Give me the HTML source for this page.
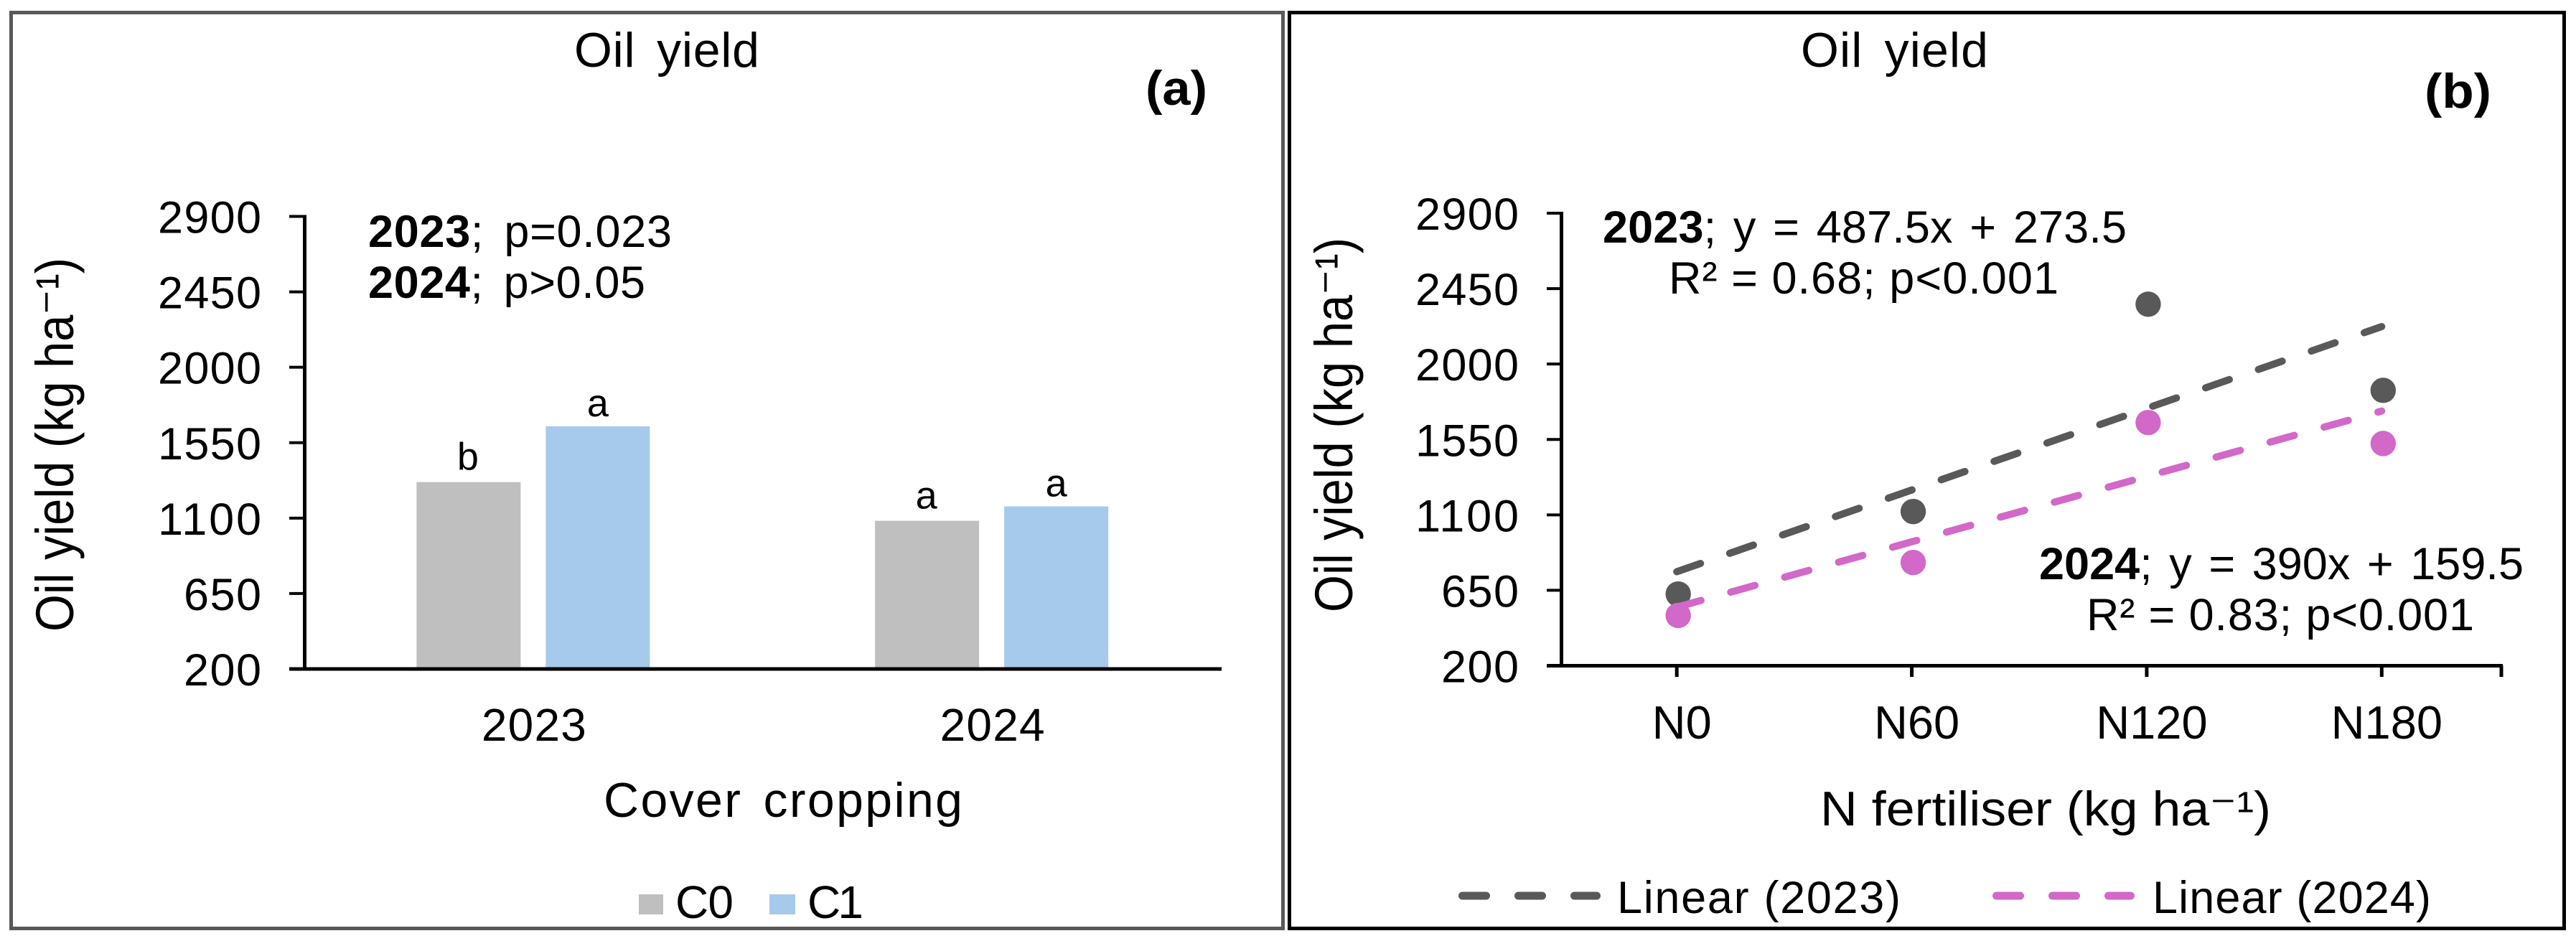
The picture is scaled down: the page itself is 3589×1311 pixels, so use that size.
<!DOCTYPE html>
<html lang="en">
<head>
<meta charset="utf-8">
<title>Oil yield charts</title>
<style>
html,body{margin:0;padding:0;background:#fff;width:3589px;height:1311px;overflow:hidden}
svg{display:block}
text{font-family:"Liberation Sans","DejaVu Sans",sans-serif;fill:#000}
</style>
</head>
<body>
<svg id="fig" xmlns="http://www.w3.org/2000/svg" width="3589" height="1311" viewBox="0 0 3589 1311">
<rect x="0" y="0" width="3589" height="1311" fill="#fff"/>
<rect x="15.5" y="17.5" width="1772" height="1276" fill="none" stroke="#595959" stroke-width="5"/>
<rect x="1796.5" y="17.5" width="1776" height="1276" fill="none" stroke="#000" stroke-width="5"/>

<text x="800" y="93" font-size="68" style="word-spacing:10px" textLength="258">Oil yield</text>
<text x="1596" y="146" font-size="68" font-weight="bold" textLength="86" lengthAdjust="spacingAndGlyphs">(a)</text>
<text x="513" y="344" font-size="63" style="word-spacing:10px" textLength="423"><tspan font-weight="bold">2023</tspan>; p=0.023</text>
<text x="513" y="415" font-size="63" style="word-spacing:10px" textLength="386"><tspan font-weight="bold">2024</tspan>; p&gt;0.05</text>
<text transform="translate(102,880) rotate(-90)" font-size="74" textLength="521" lengthAdjust="spacingAndGlyphs">Oil yield (kg ha⁻¹)</text>
<text x="841" y="1138" font-size="68" style="word-spacing:8px" textLength="500">Cover cropping</text>
<rect x="890" y="1246" width="34" height="28" fill="#bfbfbf"/>
<text x="941" y="1279" font-size="64" textLength="81">C0</text>
<rect x="1072" y="1246" width="36" height="28" fill="#a6caec"/>
<text x="1125" y="1279" font-size="64" textLength="78">C1</text>

<text x="2509" y="93" font-size="68" style="word-spacing:10px" textLength="261">Oil yield</text>
<text x="3378" y="150" font-size="68" font-weight="bold" textLength="93" lengthAdjust="spacingAndGlyphs">(b)</text>
<text x="2233" y="338" font-size="63" style="word-spacing:6px" textLength="730"><tspan font-weight="bold">2023</tspan>; y = 487.5x + 273.5</text>
<text x="2325" y="409" font-size="63" textLength="543">R² = 0.68; p&lt;0.001</text>
<text x="2841" y="807" font-size="63" style="word-spacing:6px" textLength="675"><tspan font-weight="bold">2024</tspan>; y = 390x + 159.5</text>
<text x="2907" y="878" font-size="63" textLength="540">R² = 0.83; p&lt;0.001</text>
<text transform="translate(1884,853) rotate(-90)" font-size="74" textLength="522" lengthAdjust="spacingAndGlyphs">Oil yield (kg ha⁻¹)</text>
<text x="2536" y="1150" font-size="68" textLength="628" lengthAdjust="spacingAndGlyphs">N fertiliser (kg ha⁻¹)</text>
<line x1="2037.5" y1="1248" x2="2224.5" y2="1248" stroke="#595959" stroke-width="11" stroke-linecap="round" stroke-dasharray="33 45"/>
<text x="2253" y="1272" font-size="63" textLength="395">Linear (2023)</text>
<line x1="2781.5" y1="1248" x2="2968.5" y2="1248" stroke="#d268c8" stroke-width="11" stroke-linecap="round" stroke-dasharray="33 45"/>
<text x="2999" y="1272" font-size="63" textLength="388">Linear (2024)</text>
<g id="chart-a"></g>
<g id="chart-b"></g>
</svg>
<script>
const yTickLabels = [200, 650, 1100, 1550, 2000, 2450, 2900];
const yearCategories = ['2023', '2024'];
const c0Values = [1315, 1084];
const c1Values = [1648, 1170];
const c0Letters = ['b', 'a'];
const c1Letters = ['a', 'a'];
const nCategories = ['N0', 'N60', 'N120', 'N180'];
const yield2023 = [628, 1120, 2357, 1843];
const yield2024 = [500, 816, 1651, 1526];
const trendSlopes = [487.5, 390];
const trendIntercepts = [273.5, 159.5];

const NS = 'http://www.w3.org/2000/svg';
function make(parent, tag, attrs, text) {
  const el = document.createElementNS(NS, tag);
  for (const k in attrs) el.setAttribute(k, attrs[k]);
  if (text !== undefined) el.textContent = text;
  parent.appendChild(el);
  return el;
}
const yMin = yTickLabels[0];
const yMax = yTickLabels[yTickLabels.length - 1];

/* Panel (a) */
const A = { left: 424.5, right: 1702, top: 301.5, bottom: 932 };
const ayScale = v => A.bottom - (v - yMin) / (yMax - yMin) * (A.bottom - A.top);
const axBand = i => A.left + (i + 0.5) * (A.right - A.left) / yearCategories.length;
const gA = document.getElementById('chart-a');

yearCategories.forEach((cat, i) => {
  const cx = axBand(i);
  const barW = 145, gap = 35;
  const b0 = make(gA, 'rect', { x: cx - gap / 2 - barW - 1, y: ayScale(c0Values[i]), width: barW, height: A.bottom - ayScale(c0Values[i]), fill: '#bfbfbf' });
  
  
  const b1 = make(gA, 'rect', { x: cx + gap / 2 - 1, y: ayScale(c1Values[i]), width: barW, height: A.bottom - ayScale(c1Values[i]), fill: '#a6caec' });
  
  
  const l0 = make(gA, 'text', { x: cx - gap / 2 - barW / 2 - 2, y: ayScale(c0Values[i]) - 17, 'font-size': 54, 'text-anchor': 'middle' }, c0Letters[i]);
  
  
  const l1 = make(gA, 'text', { x: cx + gap / 2 + barW / 2 - 1, y: ayScale(c1Values[i]) - 14, 'font-size': 54, 'text-anchor': 'middle' }, c1Letters[i]);
  
  
  const t = make(gA, 'text', { x: cx, y: 1032, 'font-size': 64, 'text-anchor': 'middle', textLength: 146 }, cat);
  
  
});

const yaxisA = make(gA, 'line', { x1: A.left, y1: A.top - 2, x2: A.left, y2: A.bottom + 2.5, stroke: '#000', 'stroke-width': 5 });


const xaxisA = make(gA, 'line', { x1: 403, y1: A.bottom, x2: A.right, y2: A.bottom, stroke: '#000', 'stroke-width': 5 });


yTickLabels.forEach(v => {
  const y = ayScale(v);
  const tk = make(gA, 'line', { x1: 403, y1: y, x2: A.left, y2: y, stroke: '#000', 'stroke-width': 4 });
  
  
  const s = String(v);
  const lb = make(gA, 'text', { x: 364, y: y + 23, 'font-size': 63, 'text-anchor': 'end', textLength: s.length * 36 }, s);
  
  
});

/* Panel (b) */
const B = { left: 2175.5, right: 3485, top: 297, bottom: 927.5 };
const byScale = v => B.bottom - (v - yMin) / (yMax - yMin) * (B.bottom - B.top);
const bxBand = i => B.left - 3 + (i + 0.5) * (B.right - B.left) / nCategories.length;
const gB = document.getElementById('chart-b');

const yaxisB = make(gB, 'line', { x1: B.left, y1: B.top - 2, x2: B.left, y2: B.bottom + 2.5, stroke: '#000', 'stroke-width': 5 });


const xaxisB = make(gB, 'line', { x1: 2155, y1: B.bottom, x2: B.right + 2, y2: B.bottom, stroke: '#000', 'stroke-width': 5 });


yTickLabels.forEach(v => {
  const y = byScale(v);
  const tk = make(gB, 'line', { x1: 2155, y1: y, x2: B.left, y2: y, stroke: '#000', 'stroke-width': 4 });
  
  
  const s = String(v);
  const lb = make(gB, 'text', { x: 2116, y: y + 23, 'font-size': 63, 'text-anchor': 'end', textLength: s.length * 36 }, s);
  
  
});
const endTick = make(gB, 'line', { x1: B.right, y1: B.bottom, x2: B.right, y2: 943, stroke: '#000', 'stroke-width': 5 });


nCategories.forEach((cat, i) => {
  const x = bxBand(i);
  const tk = make(gB, 'line', { x1: x, y1: B.bottom, x2: x, y2: 943, stroke: '#000', 'stroke-width': 5 });
  
  
  const lb = make(gB, 'text', { x: x + 7, y: 1029, 'font-size': 65, 'text-anchor': 'middle' }, cat);
  
  
});

const pointColors = ['#595959', '#d268c8'];
[yield2023, yield2024].forEach((series, s) => {
  series.forEach((v, i) => {
    const pt = make(gB, 'circle', { cx: bxBand(i) + 2, cy: byScale(v), r: 17.7, fill: pointColors[s] });
    
    
  });
});
trendSlopes.forEach((m, s) => {
  const first = 1, last = nCategories.length;
  const ln = make(gB, 'line', {
    x1: bxBand(first - 1), y1: byScale(m * first + trendIntercepts[s]),
    x2: bxBand(last - 1), y2: byScale(m * last + trendIntercepts[s]),
    stroke: pointColors[s], 'stroke-width': 10, 'stroke-linecap': 'round', 'stroke-dasharray': '35 43'
  });
  
  
});
</script>
</body>
</html>
